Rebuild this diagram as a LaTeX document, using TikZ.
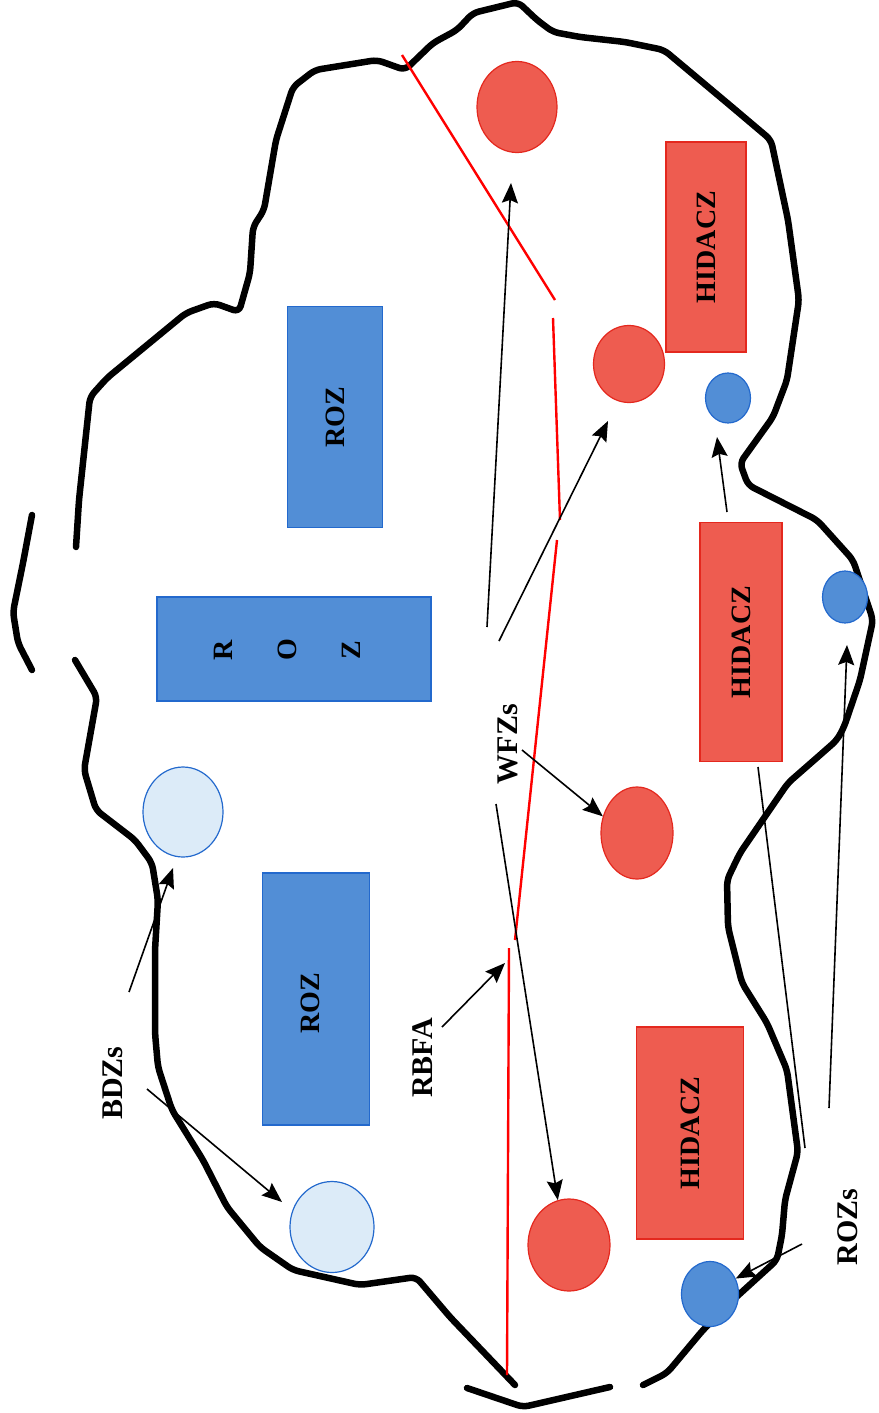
\documentclass[tikz,border=0pt]{standalone}
\usepackage{fontspec}
\setmainfont{Liberation Serif}
\usetikzlibrary{positioning}
\usetikzlibrary{arrows.meta}
\usetikzlibrary{shapes.geometric}
\definecolor{zonered}{RGB}{238,92,80}
\definecolor{edgered}{RGB}{228,40,30}
\definecolor{zoneblue}{RGB}{82,142,214}
\definecolor{edgeblue}{RGB}{35,105,205}
\definecolor{paleblue}{RGB}{220,235,248}
\tikzset {
  % airspace boundary
  border/.style={line width=6.5pt, line join=round, line cap=round, rounded corners=6pt},
  % forward line between the sides
  front/.style={draw=red, line width=2.4pt},
  % rectangular zones, text runs bottom to top
  box/.style={rotate=90, inner sep=0pt, line width=1.2pt, font=\fontsize{28}{30}\selectfont\bfseries},
  roz/.style={box, draw=edgeblue, fill=zoneblue},
  hidacz/.style={box, draw=edgered, fill=zonered},
  % round zones
  disc/.style={ellipse, inner sep=0pt, line width=1.2pt},
  wfz/.style={disc, draw=edgered, fill=zonered},
  bdz/.style={disc, draw=edgeblue, fill=paleblue},
  rozdot/.style={disc, draw=edgeblue, fill=zoneblue},
  % callouts
  tag/.style={rotate=90, inner sep=0pt, font=\fontsize{30}{32}\selectfont\bfseries},
  pointer/.style={line width=1.6pt, -{Stealth[length=20pt, width=16pt, inset=3pt]}},
  plain/.style={line width=1.6pt},
}

\begin{document}
\begin{tikzpicture}[x=1pt, y=-1pt]
      \useasboundingbox (0,0) rectangle (878,1413);

      % boundary, in pieces
      \draw[border] (75,660) -- (97,697) -- (84,770) -- (96,810) -- (135,840) -- (152,863)
        -- (158,900) -- (155,950) -- (155,1033) -- (158,1067) -- (172,1110) -- (203,1160)
        -- (227,1207) -- (260,1247) -- (293,1270) -- (360,1285) -- (416,1277) -- (450,1317)
        -- (515,1385);
      \draw[border] (467,1388) -- (523,1407) -- (610,1387);
      \draw[border] (643,1385) -- (667,1373) -- (703,1330) -- (733,1300) -- (777,1260)
        -- (782,1235) -- (785,1200) -- (798,1152) -- (787,1070) -- (767,1023) -- (742,983)
        -- (728,927) -- (727,880) -- (740,853) -- (788,783) -- (820,755) -- (837,740)
        -- (844,727) -- (860,680) -- (873,620) -- (853,560) -- (817,520) -- (748,485)
        -- (740,463) -- (773,417) -- (787,380) -- (799,300) -- (788,220) -- (771,140)
        -- (732,107) -- (664,50) -- (625,42) -- (580,37) -- (553,32) -- (537,20) -- (518,2)
        -- (473,13) -- (457,30) -- (433,43) -- (405,70) -- (377,60) -- (315,70) -- (293,87)
        -- (276,140) -- (264,210) -- (253,227) -- (250,273) -- (239,312) -- (214,303)
        -- (186,313) -- (107,378) -- (90,397) -- (79,500) -- (76,547);
      \draw[border] (32,515) -- (23,563) -- (13,612) -- (18,643) -- (32,670);

      % forward line
      \draw[front] (402,55) -- (555,300);
      \draw[front] (553,318) -- (560,520);
      \draw[front] (557,540) -- (515,940);
      \draw[front] (509,948) -- (507,1375);

      % blue side
      \node[roz, minimum width=221pt, minimum height=95pt] (roz1) at (335,417) {ROZ};
      \node[roz, minimum width=104pt, minimum height=274pt] (roz2) at (294,649) {};
      \node[tag, align=center, font=\fontsize{28}{64}\selectfont\bfseries] at (287,650) {R\\O\\Z};
      \node[roz, minimum width=252pt, minimum height=107pt] (roz3) at (316,999) {};
      \node[tag, font=\fontsize{28}{30}\selectfont\bfseries] at (310,1003) {ROZ};
      \node[bdz, minimum width=80pt, minimum height=90pt] (bdz1) at (183,812) {};
      \node[bdz, minimum width=84pt, minimum height=91pt] (bdz2) at (332,1227) {};

      % red side
      \node[wfz, minimum width=80pt, minimum height=91pt] (wfz1) at (517,107) {};
      \node[wfz, minimum width=71pt, minimum height=77pt] (wfz2) at (629,364) {};
      \node[wfz, minimum width=72pt, minimum height=92pt] (wfz3) at (637,833) {};
      \node[wfz, minimum width=82pt, minimum height=92pt] (wfz4) at (569,1245) {};
      \node[hidacz, minimum width=210pt, minimum height=80pt] (hid1) at (706,247) {HIDACZ};
      \node[hidacz, minimum width=239pt, minimum height=82pt] (hid2) at (741,642) {HIDACZ};
      \node[hidacz, minimum width=212pt, minimum height=107pt] (hid3) at (690,1133) {HIDACZ};
      \node[rozdot, minimum width=45pt, minimum height=50pt] (dot1) at (728,398) {};
      \node[rozdot, minimum width=45pt, minimum height=52pt] (dot2) at (845,597) {};
      \node[rozdot, minimum width=57pt, minimum height=65pt] (dot3) at (710,1294) {};

      % callouts
      \node[tag] (bdzs) at (113,1083) {BDZs};
      \node[tag] (rbfa) at (423,1058) {RBFA};
      \node[tag] (wfzs) at (508,744) {WFZs};
      \node[tag] (rozs) at (848,1227) {ROZs};

      \coordinate (bdzA) at (129,992);
      \coordinate (bdzAend) at (173,868);
      \coordinate (bdzB) at (147,1089);
      \coordinate (bdzBend) at (282,1202);
      \coordinate (rbfaA) at (442,1027);
      \coordinate (rbfaAend) at (505,963);
      \coordinate (wfzA) at (487,627);
      \coordinate (wfzAend) at (511,183);
      \coordinate (wfzB) at (499,641);
      \coordinate (wfzBend) at (608,421);
      \coordinate (wfzC) at (522,750);
      \coordinate (wfzD) at (496,804);
      \coordinate (rozA) at (727,512);
      \coordinate (rozAend) at (717,437);
      \coordinate (rozB) at (829,1108);
      \coordinate (rozBend) at (847,645);
      \coordinate (rozC) at (758,767);
      \coordinate (rozCend) at (805,1148);
      \coordinate (rozD) at (802,1244);

      \draw[pointer] (bdzA) -- (bdzAend);
      \draw[pointer] (bdzB) -- (bdzBend);
      \draw[pointer] (rbfaA) -- (rbfaAend);
      \draw[pointer] (wfzA) -- (wfzAend);
      \draw[pointer] (wfzB) -- (wfzBend);
      \draw[pointer] (wfzC) -- (wfz3.154);
      \draw[pointer] (wfzD) -- (wfz4.104);
      \draw[pointer] (rozA) -- (rozAend);
      \draw[pointer] (rozB) -- (rozBend);
      \draw[plain] (rozC) -- (rozCend);
      \draw[pointer] (rozD) -- (dot3.31);
\end{tikzpicture}
\end{document}
